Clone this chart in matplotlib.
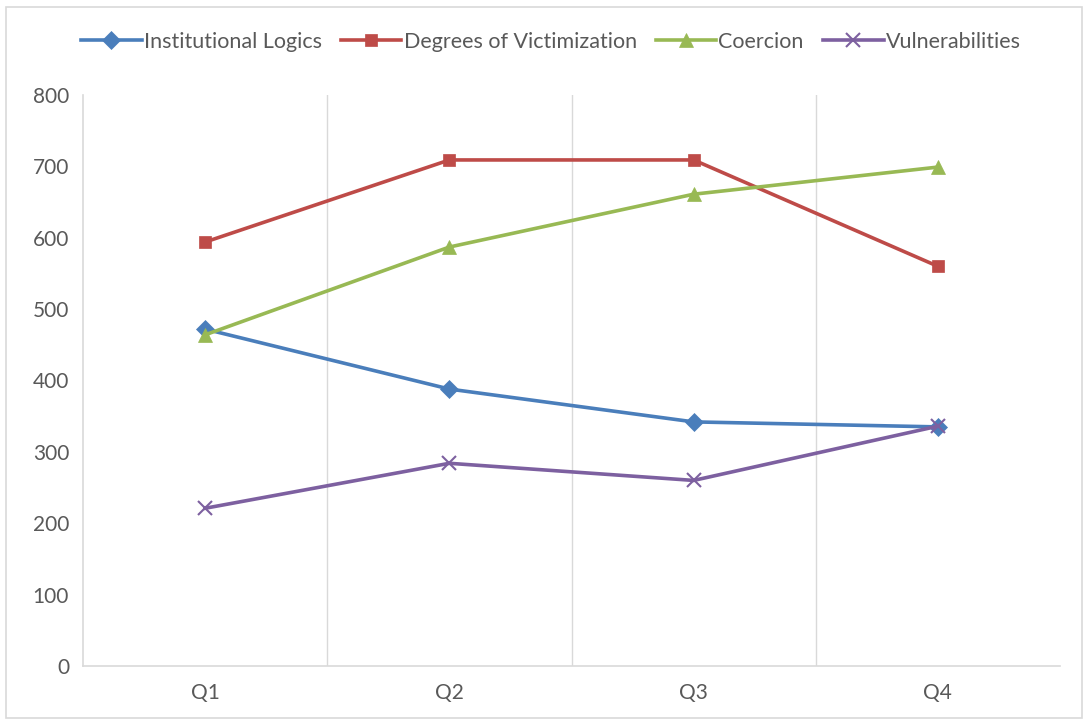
import matplotlib
matplotlib.use('Agg')
from matplotlib import pyplot as plt
from matplotlib.patches import Rectangle


quarters = ['Q1', 'Q2', 'Q3', 'Q4']
institutional_logics = [472, 388, 342, 335]
degrees_of_victimization = [594, 709, 709, 560]
coercion = [464, 587, 661, 699]
vulnerabilities = [221, 284, 260, 336]
y_ticks = [0, 100, 200, 300, 400, 500, 600, 700, 800]


def main():
    plt.rcParams['font.family'] = ['Lato', 'DejaVu Sans']
    fig = plt.figure(figsize=(10.86, 7.21), dpi=100)
    ax = fig.add_axes([83/1086, 55/721, 977/1086, 571/721])

    # outer chart border
    fig.patches.append(Rectangle((6/1086, 3/721), 1076/1086, 711/721,
                                 transform=fig.transFigure, fill=False,
                                 edgecolor='#d9d9d9', linewidth=1.2))

    x = range(len(quarters))
    series = [
        ('Institutional Logics', institutional_logics, '#4A7EBB', 'D', 9),
        ('Degrees of Victimization', degrees_of_victimization, '#BE4B48', 's', 9),
        ('Coercion', coercion, '#98B954', '^', 10),
        ('Vulnerabilities', vulnerabilities, '#7D60A0', 'x', 10),
    ]
    for name, vals, color, m, ms in series:
        ax.plot(x, vals, color=color, linewidth=2.6, marker=m, markersize=ms,
                markeredgewidth=1.5 if m == 'x' else 0.5,
                markeredgecolor=color, label=name)

    ax.set_xlim(-0.5, 3.5)
    ax.set_ylim(0, 800)
    ax.set_xticks(list(x))
    ax.set_xticklabels(quarters)
    ax.set_yticks(y_ticks)
    for b in [0.5, 1.5, 2.5]:
        ax.axvline(b, color='#d9d9d9', linewidth=1, zorder=0)

    for s in ['top', 'right']:
        ax.spines[s].set_visible(False)
    for s in ['left', 'bottom']:
        ax.spines[s].set_color('#d9d9d9')
        ax.spines[s].set_linewidth(1.2)
    ax.tick_params(length=0, labelsize=15, colors='#595959', pad=10)
    ax.tick_params(axis='x', pad=12)

    fig.legend(loc='center', bbox_to_anchor=(0.5 + 8/1086, 1 - 42/721), ncol=4,
               frameon=False, fontsize=15.5, handlelength=2.8, columnspacing=0.9,
               handletextpad=0.1, labelcolor='#595959')

    plt.savefig('out.png', dpi=100)


if __name__ == '__main__':
    main()
